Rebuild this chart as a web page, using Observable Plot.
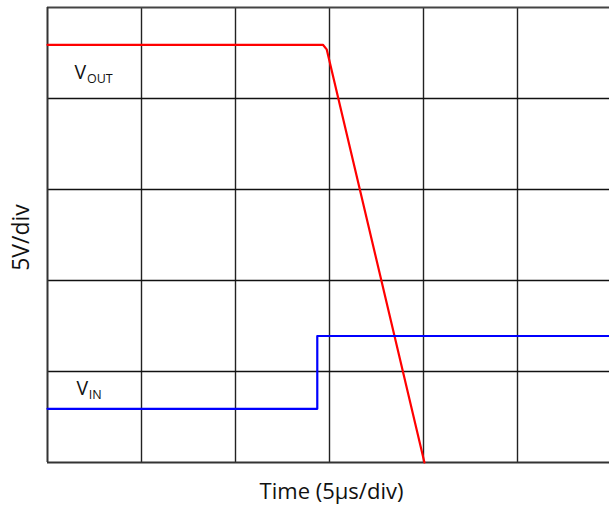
<!DOCTYPE html>
<html>
<head>
<meta charset="utf-8">
<script src="https://cdn.jsdelivr.net/npm/d3@7"></script>
<script src="https://cdn.jsdelivr.net/npm/@observablehq/plot@0.6"></script>
<style>
  html, body { margin: 0; padding: 0; background: #fff; }
  svg { display: block; }
</style>
</head>
<body>
<div id="chart"></div>
<script>
// Time in µs (5 µs/div), voltage in V (5 V/div)
const xTicks = [0, 5, 10, 15, 20, 25, 30];
const yTicks = [0, 5, 10, 15, 20, 25];

// V_OUT trace (red)
const voutTime = [0, 14.65, 14.85, 20.05];
const voutVolt = [22.95, 22.95, 22.7, 0];

// V_IN trace (blue)
const vinTime = [0, 14.35, 14.35, 30];
const vinVolt = [2.95, 2.95, 6.95, 6.95];

const xLabel = "Time (5µs/div)";
const yLabel = "5V/div";

const vout = voutTime.map((t, i) => ({t, v: voutVolt[i]}));
const vin = vinTime.map((t, i) => ({t, v: vinVolt[i]}));

const font = "Open Sans, Segoe UI, sans-serif";

const chart = Plot.plot({
  width: 609,
  height: 508,
  marginLeft: 47,
  marginRight: -2,
  marginTop: 7,
  marginBottom: 46,
  style: {fontFamily: font, background: "#fff", overflow: "hidden"},
  x: {domain: [0, 30], axis: null},
  y: {domain: [0, 25], axis: null},
  marks: [
    Plot.ruleX(xTicks.slice(1), {stroke: "#222", strokeWidth: 1.4}),
    Plot.ruleY(yTicks.slice(1, -1), {stroke: "#111", strokeWidth: 1.4}),
    Plot.ruleY([25], {stroke: "#444", strokeWidth: 2}),
    Plot.ruleX([0], {stroke: "#333", strokeWidth: 2}),
    Plot.ruleY([0], {stroke: "#333", strokeWidth: 2}),
    Plot.line(vout, {x: "t", y: "v", stroke: "#ff0000", strokeWidth: 2.2, curve: "linear"}),
    Plot.line(vin, {x: "t", y: "v", stroke: "#0000ff", strokeWidth: 2.2, curve: "step-after"}),
    // V_OUT label
    Plot.text(["V"], {x: 1.436, y: 21.43, textAnchor: "start", fontSize: 19.5, fill: "#111"}),
    Plot.text(["OUT"], {x: 2.1, y: 21.07, textAnchor: "start", fontSize: 12.5, fill: "#111"}),
    // V_IN label
    Plot.text(["V"], {x: 1.54, y: 4.07, textAnchor: "start", fontSize: 19.5, fill: "#111"}),
    Plot.text(["IN"], {x: 2.2, y: 3.71, textAnchor: "start", fontSize: 12.5, fill: "#111"}),
    // axis labels
    Plot.text([xLabel], {frameAnchor: "bottom", textAnchor: "middle", lineAnchor: "middle", dx: 2, dy: 29, fontSize: 22, fill: "#111"}),
    Plot.text([yLabel], {frameAnchor: "left", textAnchor: "middle", lineAnchor: "middle", dx: -26, dy: 2.5, rotate: -90, fontSize: 23, fill: "#111"})
  ]
});
document.getElementById("chart").appendChild(chart);
</script>
</body>
</html>
